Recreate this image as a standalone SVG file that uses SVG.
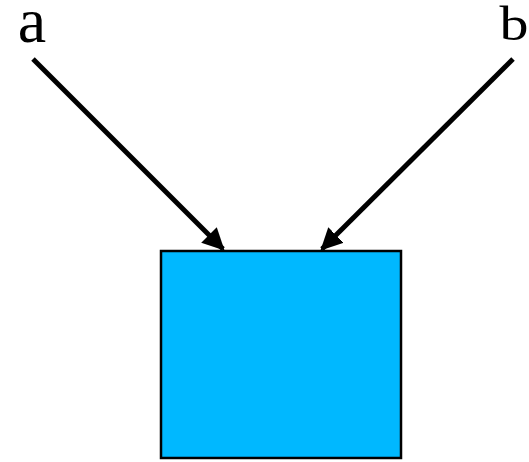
<svg xmlns="http://www.w3.org/2000/svg" width="529" height="462" viewBox="0 0 529 462">
  <style>
    .lbl { font-family: "Liberation Serif", "Times New Roman", serif; fill: #000; }
    .edge { stroke: #000; stroke-width: 5; fill: none; }
    .box { fill: #00B8FF; stroke: #000; stroke-width: 2.5; }
  </style>
  <defs>
    <marker id="arrow" viewBox="0 0 10 10" refX="9" refY="5" markerWidth="4.4" markerHeight="4.4" orient="auto" markerUnits="strokeWidth">
      <path d="M0,0 L10,5 L0,10 z" fill="#000"/>
    </marker>
  </defs>
  <g id="label-a"><text class="lbl" x="32" y="42" font-size="64" text-anchor="middle">a</text></g>
  <g id="label-b"><text class="lbl" x="514" y="48.8" font-size="58" text-anchor="middle" transform="scale(1,0.82)">b</text></g>
  <g id="block"><rect class="box" x="161" y="251" width="240" height="207"/></g>
  <g id="connectors">
    <line class="edge" x1="33" y1="59" x2="223" y2="249" marker-end="url(#arrow)"/>
    <line class="edge" x1="513" y1="59" x2="322" y2="249" marker-end="url(#arrow)"/>
  </g>
</svg>
